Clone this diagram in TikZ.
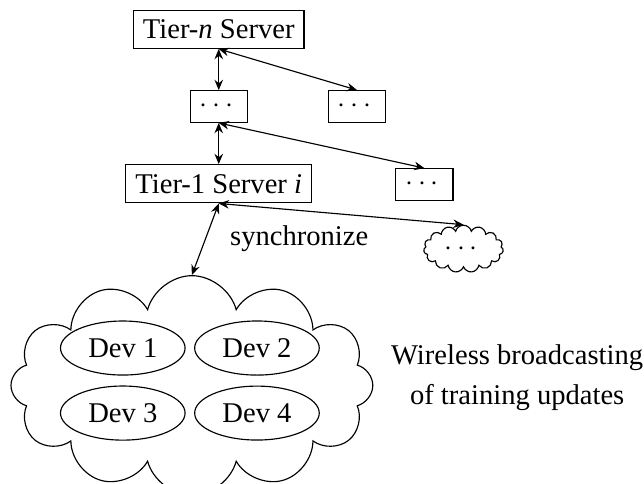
\documentclass[tikz,border=0pt]{standalone}
\usepackage{amsmath}
\usepackage{fontspec}
\setmainfont{Liberation Serif}
\usepackage{tikz}
\usetikzlibrary{shapes.geometric,shapes.symbols,arrows.meta}

\begin{document}
\begin{tikzpicture}[>={Stealth[length=3.6pt,width=3pt,inset=1.2pt]}]
                \useasboundingbox (0,0) rectangle (7.92,5.94);
                \node[draw](tn) at (2.69,5.58){Tier-\textit{n} Server};
                \node[draw](mid) at (2.69,4.63){$\cdots$};
                \node[draw](dots1) at (4.39,4.63){$\cdots$};
                \node[draw](t1) at (2.69,3.68){Tier-1 Server \textit{i}};
                \node[draw](dots2) at (5.22,3.67){$\cdots$};
                \node[draw, cloud, cloud puffs=15, cloud ignores aspect, inner sep=0pt, minimum width=0.98cm, minimum height=0.58cm](sc) at (5.70,2.88){$\cdots$};
                \node[draw, cloud, cloud puffs=12, cloud ignores aspect, minimum width=4.45cm, minimum height=2.7cm](bc) at (2.36,1.2){};
                \node[draw, ellipse](d1) at (1.51,1.66){Dev 1};
                \node[draw, ellipse](d2) at (3.16,1.66){Dev 2};
                \node[draw, ellipse](d3) at (1.51,0.86){Dev 3};
                \node[draw, ellipse](d4) at (3.16,0.86){Dev 4};
                \node(sync) at (3.68,3.01){synchronize};
                \node[align=center](wl) at (6.36,1.29){Wireless broadcasting\\[2pt]of training updates};
                \path (tn.south) edge[<->] (mid.north);
                \path (tn.south) edge[<->] (dots1.north);
                \path (mid.south) edge[<->] (t1.north);
                \path (mid.south) edge[<->] (dots2.north);
                \path (t1.south) edge[<->] (sc.north);
                \path (t1.south) edge[<->] (bc.north);
                \end{tikzpicture}
\end{document}
